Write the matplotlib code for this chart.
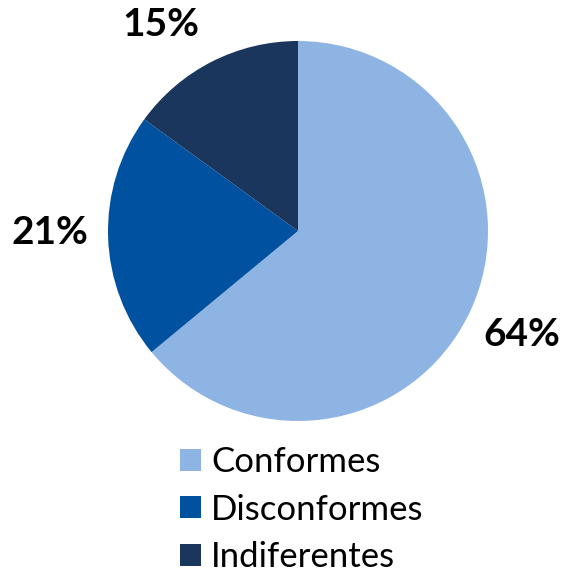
import matplotlib.pyplot as plt
from matplotlib.patches import Patch

# datos de la encuesta
categorias = ['Conformes', 'Disconformes', 'Indiferentes']
porcentajes = [64, 21, 15]
colores = ['#8EB4E3', '#00519F', '#1B365D']
# posiciones de las etiquetas (estilo Excel, fuera del sector)
pos_etiquetas = [(522, 240), (50, 343), (161, 551)]

plt.rcParams['font.family'] = ['Lato', 'DejaVu Sans']

fig = plt.figure(figsize=(5.68, 5.75), dpi=100)
ax = fig.add_axes([0, 0, 1, 1])

wedges, textos, autotextos = ax.pie(
    porcentajes, colors=colores, startangle=90, counterclock=False,
    center=(298, 344), radius=190, autopct='%1.0f%%', pctdistance=1.30,
    frame=True, wedgeprops=dict(linewidth=0),
    textprops=dict(fontsize=28, fontweight='bold', color='black'))
for t, p in zip(autotextos, pos_etiquetas):
    t.set_position(p)

ax.set_xlim(0, 568)
ax.set_ylim(0, 575)
ax.set_aspect('equal')
ax.axis('off')

handles = [Patch(facecolor=c, edgecolor='none') for c in colores]
fig.legend(handles, categorias, loc='upper left', bbox_to_anchor=(180 / 568, 1 - 446 / 575),
           frameon=False, fontsize=25, handlelength=0.6, handleheight=0.6,
           handletextpad=0.3, labelspacing=0.45, borderpad=0, borderaxespad=0)

fig.savefig('out.png', dpi=100)
